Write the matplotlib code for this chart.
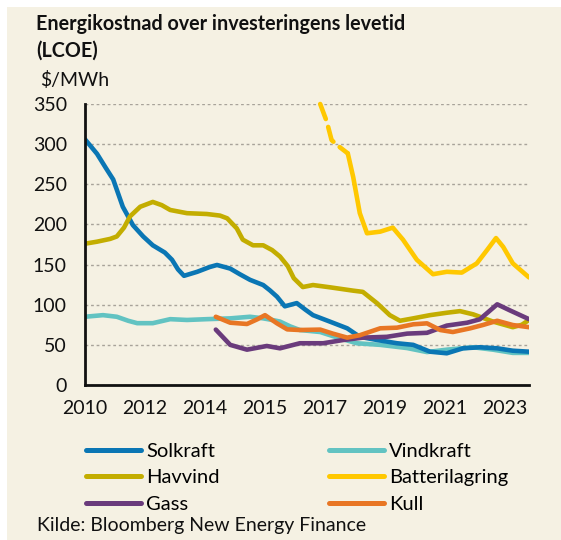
import matplotlib.pyplot as plt
from matplotlib.lines import Line2D
from matplotlib.patches import Rectangle

plt.rcParams['font.family'] = ['Lato', 'DejaVu Sans']

# x is measured in tick steps from the first label (2010)
tick_labels = ['2010', '2012', '2014', '2015', '2017', '2019', '2021', '2023']

sol_x = [0, 0.2, 0.35, 0.47, 0.63, 0.8, 0.97, 1.13, 1.33, 1.45, 1.55, 1.65, 1.87, 2.08, 2.2,
         2.42, 2.58, 2.75, 2.97, 3.08, 3.2, 3.33, 3.43, 3.53, 3.67, 3.8, 4.08, 4.37, 4.58,
         4.87, 5.2, 5.47, 5.75, 6.03, 6.3, 6.58, 6.87, 7.13, 7.4]
sol_y = [306, 288, 270, 256, 222, 199, 185, 174, 165, 156, 144, 136, 141, 147, 149.5,
         145, 138, 131, 124.5, 118, 110, 98, 100, 102, 94, 87, 79, 70.6, 60,
         56, 52, 50, 41.5, 39.5, 45.7, 47, 45.7, 42.7, 41.5]

havvind_x = [0, 0.2, 0.42, 0.53, 0.65, 0.75, 0.92, 1.13, 1.28, 1.42, 1.7, 2.03, 2.25, 2.37,
             2.53, 2.63, 2.8, 2.97, 3.12, 3.25, 3.38, 3.48, 3.63, 3.8, 4.08, 4.47, 4.63,
             4.87, 5.08, 5.25, 5.47, 5.75, 6.03, 6.25, 6.47, 6.8, 7.13, 7.28, 7.4]
havvind_y = [176, 178.5, 182, 185, 196, 210, 222, 228, 224, 218, 214, 213, 211, 207.6,
             195, 181, 174, 174, 168, 160, 148, 133, 122, 124.5, 121.7, 117.5, 116,
             101.7, 87, 80, 83, 87, 90, 92, 88, 79, 72, 75, 81]

vind_x = [0, 0.3, 0.53, 0.72, 0.87, 1.13, 1.42, 1.7, 2.03, 2.42, 2.75, 2.97, 3.12, 3.25,
          3.42, 3.58, 3.92, 4.25, 4.53, 4.92, 5.37, 5.7, 6.03, 6.47, 6.8, 7.13, 7.4]
vind_y = [85, 87, 85, 80, 77, 77, 82, 81, 82, 83, 85, 83, 81, 79,
          73, 68.5, 66, 58, 52, 50, 46, 41, 44, 47, 44, 40, 40]

batt_est_x = [3.92, 4.03, 4.11, 4.25, 4.38]
batt_est_y = [350, 328, 305, 296, 288.5]
batt_x = [4.38, 4.47, 4.58, 4.7, 4.92, 5.13, 5.3, 5.53, 5.8, 6.03, 6.28, 6.53, 6.7,
          6.85, 6.97, 7.13, 7.4]
batt_y = [288.5, 259, 214, 189, 191, 196, 181, 156, 138, 141, 140, 151.5, 168,
          183, 172, 151.5, 134]

kull_x = [2.18, 2.42, 2.7, 2.87, 3.0, 3.2, 3.37, 3.58, 3.92, 4.13, 4.37, 4.58, 4.92,
          5.2, 5.47, 5.7, 5.92, 6.13, 6.42, 6.63, 6.87, 7.13, 7.4]
kull_y = [85, 77.6, 76, 81.8, 87, 76.8, 69.3, 68.5, 69, 64, 59, 62, 70.6,
          71.4, 75.6, 76.8, 68.5, 66, 70.6, 74.7, 80, 74.7, 72]

gass_x = [2.18, 2.42, 2.7, 3.03, 3.25, 3.58, 3.97, 4.3, 4.63, 5.03, 5.37, 5.7, 6.03,
          6.37, 6.58, 6.87, 7.08, 7.4]
gass_y = [69, 50, 44, 48.6, 45.7, 52, 52, 56, 59, 60, 64, 65, 74,
          77.6, 81.8, 100.5, 93, 82]

colors = {'Solkraft': '#0a76b4', 'Vindkraft': '#62c3c2', 'Havvind': '#c3ad00',
          'Batterilagring': '#ffc800', 'Gass': '#6a3b7c', 'Kull': '#e87624'}
bg = '#f5f1e3'

fig = plt.figure(figsize=(5.61, 5.40), dpi=100, facecolor='white')
fig.patches.append(Rectangle((7 / 561, 0), 1, 1 - 7 / 540, transform=fig.transFigure,
                             facecolor=bg, edgecolor='none', zorder=-10))

ax = fig.add_axes([85 / 561, 1 - 385 / 540, (529 - 85) / 561, (385 - 104) / 540])
ax.set_facecolor(bg)

lw = 3.3
kw = dict(lw=lw, solid_capstyle='round', solid_joinstyle='round')
ax.plot(vind_x, vind_y, color=colors['Vindkraft'], **kw)
ax.plot(sol_x, sol_y, color=colors['Solkraft'], **kw)
ax.plot(havvind_x, havvind_y, color=colors['Havvind'], **kw)
ax.plot(gass_x, gass_y, color=colors['Gass'], **kw)
ax.plot(kull_x, kull_y, color=colors['Kull'], **kw)
ax.plot(batt_x, batt_y, color=colors['Batterilagring'], **kw)
ax.plot(batt_est_x, batt_est_y, color=colors['Batterilagring'], lw=lw,
        linestyle=(0, (3.5, 1.8)), dash_capstyle='round', clip_on=False)

ax.set_xlim(0, 7.4)
ax.set_ylim(0, 350)
ax.set_xticks(range(len(tick_labels)))
ax.set_xticklabels(tick_labels)
ax.set_yticks(range(0, 351, 50))
ax.tick_params(length=0, labelsize=14, colors='#111111')
ax.tick_params(axis='y', pad=13)
ax.tick_params(axis='x', pad=11)

ax.yaxis.grid(True, color='#a8a39a', lw=1, linestyle=(0, (2, 2)))
ax.set_axisbelow(True)
for s in ['top', 'right']:
    ax.spines[s].set_visible(False)
for s in ['left', 'bottom']:
    ax.spines[s].set_linewidth(2)
    ax.spines[s].set_color('#111111')

fig.text(36 / 561, 1 - 14 / 540, 'Energikostnad over investeringens levetid\n(LCOE)',
         fontsize=14.2, fontweight='bold', va='top', ha='left', linespacing=1.4,
         color='#111111')
fig.text(40 / 561, 1 - 80 / 540, '$/MWh', fontsize=14, va='center', ha='left',
         color='#111111')
fig.text(37 / 561, 1 - 526 / 540, 'Kilde: Bloomberg New Energy Finance', fontsize=14,
         va='center', ha='left', color='#111111')

order = ['Solkraft', 'Havvind', 'Gass', 'Vindkraft', 'Batterilagring', 'Kull']
handles = [Line2D([], [], color=colors[n], lw=3.6, solid_capstyle='round') for n in order]
fig.legend(handles, order, ncol=2, loc='upper left',
           bbox_to_anchor=(86 / 561, 1 - 443 / 540), frameon=False, fontsize=14.5,
           handlelength=2.75, handletextpad=0.25, columnspacing=5.4,
           labelspacing=0.46, borderpad=0, borderaxespad=0)

fig.savefig('out.png', dpi=100, facecolor='white')
